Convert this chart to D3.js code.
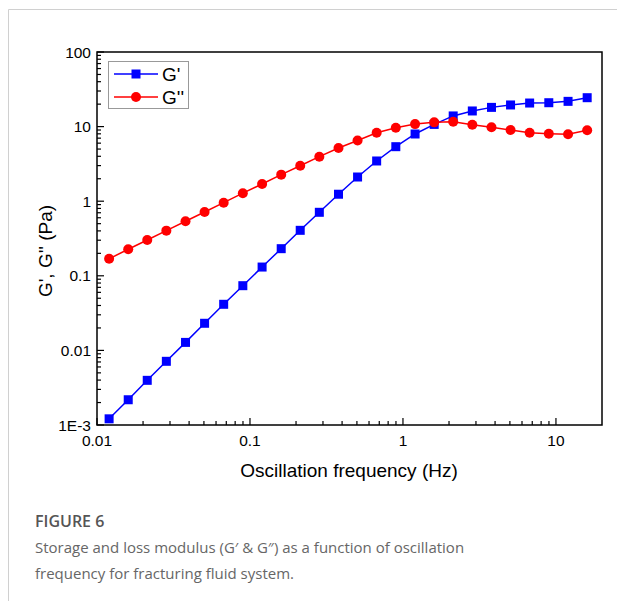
<!DOCTYPE html>
<html>
<head>
<meta charset="utf-8">
<script src="https://cdn.jsdelivr.net/npm/d3@7"></script>
<style>
  body { margin: 0; background: #fff; }
  svg { display: block; }
</style>
</head>
<body>
<script>
// oscillation frequency (Hz)
const freq = [0.0120, 0.0160, 0.0213, 0.0284, 0.0379, 0.0505, 0.0673, 0.0898,
              0.120, 0.160, 0.213, 0.284, 0.379, 0.505, 0.673, 0.898,
              1.20, 1.60, 2.13, 2.84, 3.79, 5.05, 6.73, 8.98, 12.0, 16.0];
// storage modulus G' (Pa)
const gStorage = [0.00121, 0.00218, 0.00397, 0.00714, 0.0128, 0.0231, 0.0415, 0.0737,
                  0.131, 0.231, 0.407, 0.71, 1.24, 2.11, 3.46, 5.38,
                  7.96, 10.7, 13.9, 16.2, 18.1, 19.5, 20.7, 20.9, 21.8, 24.4];
// loss modulus G'' (Pa)
const gLoss = [0.169, 0.227, 0.302, 0.403, 0.538, 0.716, 0.955, 1.28,
               1.70, 2.27, 2.99, 3.95, 5.16, 6.51, 8.28, 9.66,
               10.8, 11.4, 11.6, 10.6, 9.8, 9.0, 8.28, 8.03, 7.88, 8.92];

const xTicks = [0.01, 0.1, 1, 10];
const yTicks = [0.001, 0.01, 0.1, 1, 10, 100];
const yTickLabels = ["1E-3", "0.01", "0.1", "1", "10", "100"];

const W = 617, H = 601;
const plotL = 97, plotT = 52, plotR = 602, plotB = 425;
const font = "Liberation Sans, Arial, sans-serif";

let svg = d3.select("body").append("svg")
    .attr("width", W)
    .attr("height", H);

// page frame
svg.append("path")
    .attr("d", "M8.5," + H + "V9.5H" + W)
    .attr("fill", "none")
    .attr("stroke", "#d0d0d0")
    .attr("stroke-width", 1);

let x = d3.scaleLog().domain([0.01, 20]).range([plotL, plotR]);
let y = d3.scaleLog().domain([0.001, 100]).range([plotB, plotT]);

// minor tick values
let xMinor = [], yMinor = [];
for (let e = -2; e <= 1; e++) {
    for (let m = 2; m <= 9; m++) {
        let v = m * Math.pow(10, e);
        if (v < 20) xMinor.push(v);
    }
}
for (let e = -3; e <= 1; e++) {
    for (let m = 2; m <= 9; m++) yMinor.push(m * Math.pow(10, e));
}

let axes = svg.append("g").attr("class", "axes");

axes.selectAll(".xminor").data(xMinor).enter().append("line")
    .attr("x1", d => x(d)).attr("x2", d => x(d))
    .attr("y1", plotB).attr("y2", plotB - 4)
    .attr("stroke", "#000").attr("stroke-width", 1.2);
axes.selectAll(".xmajor").data(xTicks).enter().append("line")
    .attr("x1", d => x(d)).attr("x2", d => x(d))
    .attr("y1", plotB).attr("y2", plotB - 7)
    .attr("stroke", "#000").attr("stroke-width", 1.2);
axes.selectAll(".yminor").data(yMinor).enter().append("line")
    .attr("y1", d => y(d)).attr("y2", d => y(d))
    .attr("x1", plotL).attr("x2", plotL + 4)
    .attr("stroke", "#000").attr("stroke-width", 1.2);
axes.selectAll(".ymajor").data(yTicks).enter().append("line")
    .attr("y1", d => y(d)).attr("y2", d => y(d))
    .attr("x1", plotL).attr("x2", plotL + 7)
    .attr("stroke", "#000").attr("stroke-width", 1.2);

axes.append("rect")
    .attr("x", plotL).attr("y", plotT)
    .attr("width", plotR - plotL).attr("height", plotB - plotT)
    .attr("fill", "none")
    .attr("stroke", "#000")
    .attr("stroke-width", 1.5);

axes.selectAll(".xlabel").data(xTicks).enter().append("text")
    .attr("x", d => x(d))
    .attr("y", plotB + 21)
    .attr("text-anchor", "middle")
    .attr("font-family", font)
    .attr("font-size", 15.5)
    .text(d => d);

axes.selectAll(".ylabel").data(yTicks).enter().append("text")
    .attr("x", plotL - 6)
    .attr("y", d => y(d) + 5.5)
    .attr("text-anchor", "end")
    .attr("font-family", font)
    .attr("font-size", 15.5)
    .text((d, i) => yTickLabels[i]);

svg.append("text")
    .attr("x", 349)
    .attr("y", 477)
    .attr("text-anchor", "middle")
    .attr("font-family", font)
    .attr("font-size", 19)
    .text("Oscillation frequency (Hz)");

svg.append("text")
    .attr("transform", "translate(52,251) rotate(-90)")
    .attr("text-anchor", "middle")
    .attr("font-family", font)
    .attr("font-size", 19)
    .text("G', G'' (Pa)");

// series
let series = [
    { name: "G'", values: gStorage, colour: "#0000ff", marker: "square" },
    { name: "G''", values: gLoss, colour: "#ff0000", marker: "circle" }
];

let line = d3.line()
    .x(d => x(d[0]))
    .y(d => y(d[1]));

series.forEach(function (s) {
    let pts = freq.map((f, i) => [f, s.values[i]]);
    let g = svg.append("g").attr("class", "series");
    g.append("path")
        .attr("d", line(pts))
        .attr("fill", "none")
        .attr("stroke", s.colour)
        .attr("stroke-width", 1.5);
    if (s.marker === "square") {
        g.selectAll("rect").data(pts).enter().append("rect")
            .attr("x", d => x(d[0]) - 4.5)
            .attr("y", d => y(d[1]) - 4.5)
            .attr("width", 9).attr("height", 9)
            .attr("fill", s.colour);
    } else {
        g.selectAll("circle").data(pts).enter().append("circle")
            .attr("cx", d => x(d[0]))
            .attr("cy", d => y(d[1]))
            .attr("r", 5)
            .attr("fill", s.colour);
    }
});

// legend
let legend = svg.append("g").attr("class", "legend");
legend.append("rect")
    .attr("x", 108.5).attr("y", 61.5)
    .attr("width", 80).attr("height", 47)
    .attr("fill", "#fff")
    .attr("stroke", "#999")
    .attr("stroke-width", 1);

series.forEach(function (s, i) {
    let ly = 74 + i * 23;
    legend.append("line")
        .attr("x1", 114).attr("x2", 158)
        .attr("y1", ly).attr("y2", ly)
        .attr("stroke", s.colour).attr("stroke-width", 1.5);
    if (s.marker === "square") {
        legend.append("rect")
            .attr("x", 136 - 4.5).attr("y", ly - 4.5)
            .attr("width", 9).attr("height", 9)
            .attr("fill", s.colour);
    } else {
        legend.append("circle")
            .attr("cx", 136).attr("cy", ly).attr("r", 5)
            .attr("fill", s.colour);
    }
    legend.append("text")
        .attr("x", 162).attr("y", ly + 7)
        .attr("font-family", font)
        .attr("font-size", 19)
        .text(s.name);
});

// caption
let cap = svg.append("g").attr("font-family", "Open Sans, Noto Sans, sans-serif");
cap.append("text")
    .attr("x", 35).attr("y", 527)
    .attr("font-size", 16)
    .attr("font-weight", 600)
    .attr("fill", "#555")
    .text("FIGURE 6");
cap.append("text")
    .attr("x", 35).attr("y", 553)
    .attr("font-size", 15)
    .attr("fill", "#666")
    .text("Storage and loss modulus (G\u2032 & G\u2033) as a function of oscillation");
cap.append("text")
    .attr("x", 35).attr("y", 579)
    .attr("font-size", 15)
    .attr("fill", "#666")
    .text("frequency for fracturing fluid system.");
</script>
</body>
</html>
